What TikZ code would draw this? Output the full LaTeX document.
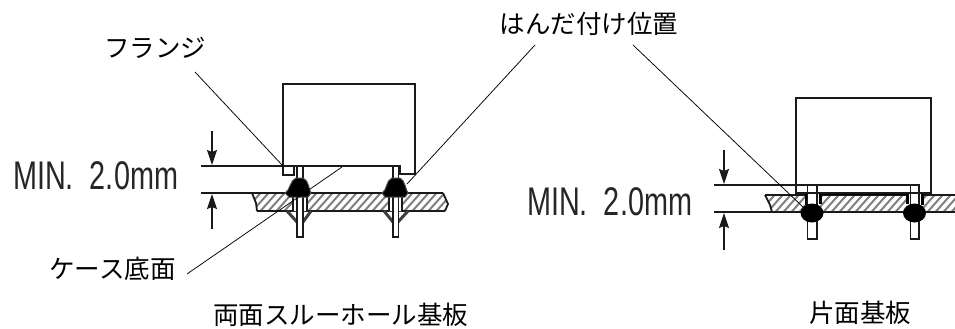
\documentclass[tikz,border=0pt]{standalone}
\usepackage{fontspec}
\setmainfont{Liberation Sans}
\newfontfamily\jpfont{Noto Sans CJK JP}
\usetikzlibrary{arrows.meta}
\definecolor{ink}{HTML}{1A1A1A}
\tikzset{
  part/.style={draw=ink,line width=1.8pt,fill=white},
  outline/.style={draw=ink,line width=1.8pt},
  thickline/.style={draw=black,line width=3pt},
  hatchline/.style={draw=black!50,line width=2pt},
  leader/.style={draw=black,line width=0.75pt},
  dimarrow/.style={draw=ink,line width=1.4pt,-{Stealth[length=15pt,width=10pt,inset=2pt]}},
  label/.style={inner sep=0pt,font=\jpfont\fontsize{25.5}{27}\selectfont,text=black},
  dimtext/.style={inner sep=0pt,text=black!85,font=\fontsize{40}{42}\selectfont},
  solder/.style={fill=black,draw=black!70,line width=1pt}
}
\begin{document}
\begin{tikzpicture}[x=1pt,y=-1pt]
\useasboundingbox (0,0) rectangle (955,329);
\fill[white] (0,0) rectangle (955,329);
% ---------- LEFT ----------
\begin{scope}
\clip (252,193) -- (443,193) -- (448,204) -- (445,211) -- (257,211) -- (256,203) -- cycle;
\foreach \i in {0,...,28} \draw[hatchline] (240+\i*8,216) -- (265+\i*8,188);
\end{scope}
\draw[outline] (252,193) -- (443,193) (257,211) -- (445,211);
\draw[outline] (252,193) -- (256,203) -- (257,211);
\draw[outline] (443,193) -- (448,204) -- (445,211);
% lower fillets
\draw[thickline,draw=black!75] (287,211) -- (297,222) (311,211) -- (303,222);
\draw[thickline,draw=black!75] (384,211) -- (393,222) (408,211) -- (398,222);
% holes
\fill[white] (293,193) rectangle (307,211) (389,193) rectangle (402,211);
\draw[outline] (293,193) -- (293,211) (307,193) -- (307,211) (389,193) -- (389,211) (402,193) -- (402,211);
% pins
\draw[part] (297,166) rectangle (303,237);
\draw[part] (393,166) rectangle (398.5,237);
% solder
\path[solder] (285,193) .. controls (290,191) and (290,180) .. (296,178) -- (303,178) .. controls (309,180) and (309,191) .. (311,193) -- (308,197) -- (289,197) -- cycle;
\path[solder] (382,193) .. controls (387,191) and (386,180) .. (392,178) -- (400,178) .. controls (405,180) and (406,191) .. (408,193) -- (405,197) -- (385,197) -- cycle;
% body
\draw[part] (283,84) rectangle (415,166);
\fill[white] (401,165) rectangle (414,167);
\draw[outline] (283,166) -- (283,175) -- (294,175) -- (294,166);
\draw[outline] (400,166) -- (400,174) -- (415,174) -- (415,166);
\draw[outline] (201,166) -- (400,166);
\draw[outline] (201,193) -- (252,193);
% dims
\coordinate (la1) at (212,131); \coordinate (la2) at (212,165);
\coordinate (la3) at (212,229); \coordinate (la4) at (212,194);
\draw[dimarrow] (la1) -- (la2);
\draw[dimarrow] (la3) -- (la4);
\node[dimtext,anchor=west] (lmin) at (13,176) {\scalebox{0.72}[1]{MIN.\ \ 2.0mm}};
% ---------- RIGHT ----------
\begin{scope}
\clip (765,195) -- (955,195) -- (955,212) -- (772,212) -- (770,205) -- cycle;
\foreach \i in {0,...,28} \draw[hatchline] (755+\i*8,217) -- (780+\i*8,189);
\end{scope}
\draw[outline] (765,195) -- (955,195) (772,212) -- (955,212);
\draw[outline] (765,195) -- (770,205) -- (772,212);
\draw[outline] (714,212) -- (772,212);
\fill[white] (806,185) rectangle (820,212) (907,185) rectangle (923,212);
\draw[thickline] (820,193.5) -- (907,193.5);
\draw[thickline] (820,192) -- (820,204) (907,192) -- (907,204);
\draw[thickline] (806,192) -- (806,205) (922,192) -- (922,205);
\draw[part] (807.5,185) -- (817,185) -- (817,239) -- (807.5,239) -- cycle;
\draw[part] (910.5,185) -- (919,185) -- (919,239) -- (910.5,239) -- cycle;
\fill[black] (812,213) ellipse[x radius=11.5,y radius=9.5];
\fill[black] (914.5,213) ellipse[x radius=11.5,y radius=9.5];
\draw[outline] (796,98) rectangle (931,193);
\draw[outline] (714,185) -- (919,185);
\coordinate (ra1) at (724,150); \coordinate (ra2) at (724,184);
\coordinate (ra3) at (724,250); \coordinate (ra4) at (724,213);
\draw[dimarrow] (ra1) -- (ra2);
\draw[dimarrow] (ra3) -- (ra4);
\node[dimtext,anchor=west] (rmin) at (527,201.5) {\scalebox{0.72}[1]{MIN.\ \ 2.0mm}};
% ---------- LABELS ----------
\node[label,anchor=center] (flange) at (155,47.5) {フランジ};
\node[label,anchor=center] (solderpos) at (589,24) {はんだ付け位置};
\node[label,anchor=center] (casebottom) at (112.5,269) {ケース底面};
\node[label,anchor=center] (capl) at (340.5,315) {両面スルーホール基板};
\node[label,anchor=center] (capr) at (860,312.5) {片面基板};
% ---------- LEADERS ----------
\coordinate (f1) at (195,72);  \coordinate (f2) at (283,166);
\coordinate (s1) at (535,45);  \coordinate (s2) at (407,184);
\coordinate (s3) at (633,45);  \coordinate (s4) at (803,207);
\coordinate (c1) at (187,274); \coordinate (c2) at (342,167);
\draw[leader] (f1) -- (f2);
\draw[leader] (s1) -- (s2);
\draw[leader] (s3) -- (s4);
\draw[leader] (c1) -- (c2);
\end{tikzpicture}
\end{document}
